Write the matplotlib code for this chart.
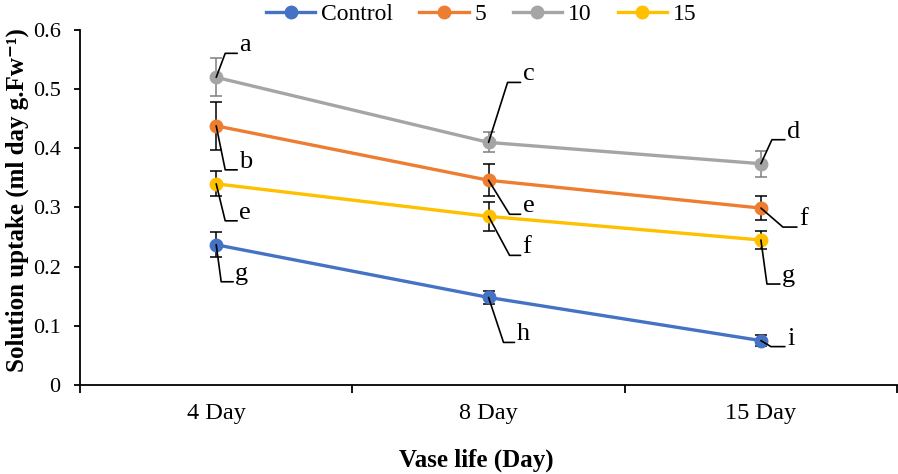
# Solution uptake over vase life, line chart with error bars and letter labels
import math
import matplotlib
matplotlib.use("Agg")
from matplotlib import pyplot as plt

# =============================================================================
# DADOS
# =============================================================================

dias = ["4 Day", "8 Day", "15 Day"]
series = ["Control", "5", "10", "15"]

controle = [0.237, 0.148, 0.075]
trat_5 = [0.438, 0.346, 0.299]
trat_10 = [0.520, 0.410, 0.374]
trat_15 = [0.340, 0.285, 0.245]

erro_controle = [0.021, 0.011, 0.009]
erro_5 = [0.040, 0.027, 0.020]
erro_10 = [0.032, 0.017, 0.022]
erro_15 = [0.021, 0.025, 0.016]

letras_controle = ["g", "h", "i"]
letras_5 = ["b", "e", "f"]
letras_10 = ["a", "c", "d"]
letras_15 = ["e", "f", "g"]

# =============================================================================
# ESTILO
# =============================================================================

FONTE = ["Liberation Serif", "DejaVu Serif"]
plt.rcParams["font.family"] = FONTE

cores = ["#4472C4", "#ED7D31", "#A5A5A5", "#FFC000"]
cores_erro = ["black", "black", "#7F7F7F", "black"]

# geometria das linhas guia: (dx, dy, comprimento horizontal) em pixels
guias_controle = [(5, -37, 12), (15, -45, 11), (10, -6, 14)]
guias_5 = [(9, -44, 12), (21, -34, 11), (22, -19, 14)]
guias_10 = [(9, 24, 12), (19, 60, 13), (11, 24, 13)]
guias_15 = [(9, -37, 12), (21, -39, 11), (6, -44, 13)]

valores = [controle, trat_5, trat_10, trat_15]
erros = [erro_controle, erro_5, erro_10, erro_15]
letras = [letras_controle, letras_5, letras_10, letras_15]
guias = [guias_controle, guias_5, guias_10, guias_15]

# =============================================================================
# FIGURA
# =============================================================================

fig = plt.figure(figsize=(8.98, 4.74), dpi=100)
ax = fig.add_axes([0.0891, 0.1878, 0.9099, 0.7489])

x = list(range(len(dias)))

for nome, y, err, cor, cor_e in zip(series, valores, erros, cores, cores_erro):
    ax.errorbar(x, y, yerr=err, fmt="none", ecolor=cor_e, elinewidth=1.1,
                capsize=4, capthick=1.1, zorder=2)
    ax.plot(x, y, color=cor, lw=2.4, marker="o", ms=9, label=nome, zorder=3)

for y, lets, gs in zip(valores, letras, guias):
    for xi, yi, letra, (dx, dy, hl) in zip(x, y, lets, gs):
        angulo = math.degrees(math.atan2(dy, dx))
        ax.annotate("", xy=(xi, yi), xytext=(dx + hl, dy),
                    textcoords="offset pixels",
                    arrowprops=dict(arrowstyle="-", color="black", lw=1.2,
                                    shrinkA=0, shrinkB=0,
                                    connectionstyle="angle,angleA=0,angleB=%.1f,rad=0" % angulo),
                    zorder=4)
        ax.annotate(letra, xy=(xi, yi), xytext=(dx + hl + 2, dy + 2),
                    textcoords="offset pixels", ha="left", va="baseline",
                    fontsize=19, zorder=5)

ax.set_xlim(-0.5, 2.5)
ax.set_ylim(0, 0.6)
ax.set_yticks([0, 0.1, 0.2, 0.3, 0.4, 0.5, 0.6])
ax.set_yticklabels(["0", "0.1", "0.2", "0.3", "0.4", "0.5", "0.6"])
ax.set_xticks(x)
ax.set_xticklabels(dias)
ax.set_xticks([-0.5, 0.5, 1.5, 2.5], minor=True)

ax.tick_params(axis="x", which="major", length=0, pad=13, labelsize=17.5)
ax.tick_params(axis="x", which="minor", length=6, width=1.3, direction="out")
ax.tick_params(axis="y", length=4, width=1.3, direction="out", pad=10, labelsize=16)

for lado in ["top", "right"]:
    ax.spines[lado].set_visible(False)
for lado in ["left", "bottom"]:
    ax.spines[lado].set_linewidth(1.3)

ax.set_ylabel("Solution uptake (ml day g.Fw\u207b\u00b9)", fontsize=18,
              fontweight="bold")
ax.yaxis.set_label_coords(-0.062, 0.52)
ax.set_xlabel("Vase life (Day)", fontsize=18, fontweight="bold")
ax.xaxis.set_label_coords(0.485, -0.18)

fig.legend(loc="center", bbox_to_anchor=(0.536, 0.97), ncol=4, frameon=False,
           prop=dict(family=FONTE, size=17), handlelength=2.1,
           handletextpad=0.25, columnspacing=1.1)

plt.savefig("out.png", dpi=100)
